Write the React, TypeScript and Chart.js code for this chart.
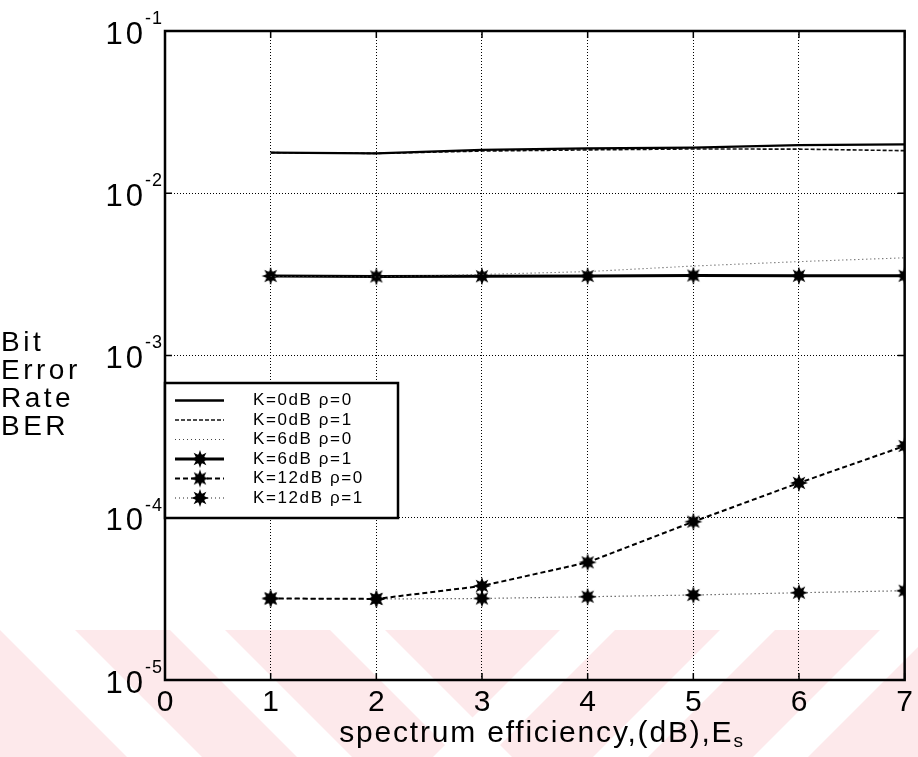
import React, { useEffect, useRef } from 'react';
import { Chart, registerables } from 'chart.js';

Chart.register(...registerables);

// ---- data ----
const xValues = [1, 2, 3, 4, 5, 6, 7];
const k0rho0 = [0.0178, 0.0176, 0.0185, 0.0189, 0.0191, 0.0198, 0.0200];
const k0rho1 = [0.0178, 0.0176, 0.0182, 0.0185, 0.01875, 0.0187, 0.0183];
const k6rho0 = [0.00307, 0.00305, 0.00316, 0.00329, 0.00356, 0.00379, 0.004];
const k6rho1 = [0.00309, 0.00307, 0.00308, 0.00309, 0.00311, 0.0031, 0.0031];
const k12rho0 = [3.18e-5, 3.16e-5, 3.8e-5, 5.31e-5, 9.46e-5, 1.64e-4, 2.77e-4];
const k12rho1 = [3.18e-5, 3.16e-5, 3.18e-5, 3.26e-5, 3.34e-5, 3.45e-5, 3.55e-5];

const seriesLabels = ['K=0dB ρ=0', 'K=0dB ρ=1', 'K=6dB ρ=0', 'K=6dB ρ=1', 'K=12dB ρ=0', 'K=12dB ρ=1'];
const xTickValues = [0, 1, 2, 3, 4, 5, 6, 7];
const yDecades = [1e-5, 1e-4, 1e-3, 1e-2, 1e-1];
const yExponents = ['-5', '-4', '-3', '-2', '-1'];
const yTitleLines = ['Bit', 'Error', 'Rate', 'BER'];
const xTitleMain = 'spectrum efficiency,(dB),E';
const xTitleSub = 's';

const FONT = '"Liberation Sans", Arial, Helvetica, sans-serif';

function makeStar(): HTMLCanvasElement {
  const size = 20;
  const c = document.createElement('canvas');
  c.width = size;
  c.height = size;
  const ctx = c.getContext('2d')!;
  const cx = size / 2;
  const cy = size / 2;
  ctx.beginPath();
  for (let i = 0; i < 16; i++) {
    const r = i % 2 === 0 ? 9 : 4.4;
    const a = (Math.PI * 2 * i) / 16 - Math.PI / 2;
    const px = cx + r * Math.cos(a);
    const py = cy + r * Math.sin(a);
    if (i === 0) ctx.moveTo(px, py);
    else ctx.lineTo(px, py);
  }
  ctx.closePath();
  ctx.fillStyle = '#000';
  ctx.fill();
  ctx.beginPath();
  ctx.arc(cx, cy, 4.8, 0, Math.PI * 2);
  ctx.fill();
  return c;
}

export default function App() {
  const ref = useRef<HTMLCanvasElement | null>(null);

  useEffect(() => {
    document.body.style.margin = '0';
    const canvas = ref.current!;
    const star = makeStar();
    const toPts = (arr: number[]) => xValues.map((x, i) => ({ x, y: arr[i] }));

    const datasets: any[] = [
      { label: seriesLabels[0], data: toPts(k0rho0), borderColor: '#000', borderWidth: 2.3, pointRadius: 0, borderDash: [] },
      { label: seriesLabels[1], data: toPts(k0rho1), borderColor: '#111', borderWidth: 1.6, pointRadius: 0, borderDash: [4, 2] },
      { label: seriesLabels[2], data: toPts(k6rho0), borderColor: '#444', borderWidth: 1.1, pointRadius: 0, borderDash: [1, 3] },
      { label: seriesLabels[3], data: toPts(k6rho1), borderColor: '#000', borderWidth: 3, pointStyle: star, pointRadius: 9, borderDash: [] },
      { label: seriesLabels[4], data: toPts(k12rho0), borderColor: '#000', borderWidth: 2, pointStyle: star, pointRadius: 9, borderDash: [5, 3] },
      { label: seriesLabels[5], data: toPts(k12rho1), borderColor: '#222', borderWidth: 1.2, pointStyle: star, pointRadius: 9, borderDash: [1, 3] },
    ];
    datasets.forEach((d) => {
      d.fill = false;
      d.tension = 0;
      d.backgroundColor = '#000';
      d.pointBorderWidth = 0;
    });

    const decorPlugin = {
      id: 'decor',
      beforeDraw(chart: any) {
        const ctx = chart.ctx;
        ctx.save();
        ctx.fillStyle = '#fff';
        ctx.fillRect(0, 0, chart.width, chart.height);
        // faint watermark band
        const top = 630;
        const bot = chart.height;
        const h = bot - top;
        ctx.fillStyle = '#fde9eb';
        ctx.fillRect(0, top, chart.width, h);
        ctx.fillStyle = '#fff';
        const back = [0, 170, 330];
        back.forEach((x0, i) => {
          const w = i === 0 ? 75 : 55;
          ctx.beginPath();
          ctx.moveTo(x0, top);
          ctx.lineTo(x0 + w, top);
          ctx.lineTo(x0 + w + h, bot);
          ctx.lineTo(x0 + h, bot);
          ctx.closePath();
          ctx.fill();
        });
        const fwd = [560, 720, 880];
        fwd.forEach((x0) => {
          const w = 55;
          ctx.beginPath();
          ctx.moveTo(x0, top);
          ctx.lineTo(x0 + w, top);
          ctx.lineTo(x0 + w - h, bot);
          ctx.lineTo(x0 - h, bot);
          ctx.closePath();
          ctx.fill();
        });
        ctx.restore();
      },
      afterDraw(chart: any) {
        const ctx = chart.ctx;
        const a = chart.chartArea;
        const xs = chart.scales.x;
        const ys = chart.scales.y;
        ctx.save();
        // axis box
        ctx.strokeStyle = '#000';
        ctx.lineWidth = 2.5;
        ctx.setLineDash([]);
        ctx.strokeRect(a.left, a.top, a.right - a.left, a.bottom - a.top);
        // inward ticks
        ctx.lineWidth = 1.5;
        ctx.beginPath();
        xTickValues.forEach((v) => {
          const px = xs.getPixelForValue(v);
          ctx.moveTo(px, a.bottom);
          ctx.lineTo(px, a.bottom - 7);
          ctx.moveTo(px, a.top);
          ctx.lineTo(px, a.top + 7);
        });
        yDecades.forEach((v) => {
          const py = ys.getPixelForValue(v);
          ctx.moveTo(a.left, py);
          ctx.lineTo(a.left + 7, py);
          ctx.moveTo(a.right, py);
          ctx.lineTo(a.right - 7, py);
        });
        ctx.stroke();

        // y tick labels 10^n
        ctx.fillStyle = '#000';
        yDecades.forEach((v, i) => {
          const py = ys.getPixelForValue(v);
          ctx.font = `31px ${FONT}`;
          (ctx as any).letterSpacing = '3px';
          ctx.textAlign = 'right';
          ctx.textBaseline = 'middle';
          ctx.fillText('10', 146, py + 4);
          ctx.font = `18px ${FONT}`;
          (ctx as any).letterSpacing = '1px';
          ctx.textAlign = 'left';
          ctx.fillText(yExponents[i], 145, py - 12);
        });

        // y title
        ctx.font = `28px ${FONT}`;
        (ctx as any).letterSpacing = '3.5px';
        ctx.textAlign = 'left';
        ctx.textBaseline = 'middle';
        yTitleLines.forEach((t, i) => {
          ctx.fillText(t, 1, 343 + i * 28);
        });

        // x title with subscript
        ctx.font = `30px ${FONT}`;
        (ctx as any).letterSpacing = '1.8px';
        ctx.textBaseline = 'alphabetic';
        const mainW = ctx.measureText(xTitleMain).width;
        ctx.font = `19px ${FONT}`;
        const subW = ctx.measureText(xTitleSub).width;
        const cx = 542;
        const startX = cx - (mainW + subW) / 2;
        ctx.font = `30px ${FONT}`;
        ctx.textAlign = 'left';
        ctx.fillText(xTitleMain, startX, 742);
        ctx.font = `19px ${FONT}`;
        ctx.fillText(xTitleSub, startX + mainW, 747);

        // legend
        const lx = a.left;
        const ly = 383;
        const lw = 398 - a.left;
        const lh = 518 - 383;
        ctx.fillStyle = '#fff';
        ctx.fillRect(lx, ly, lw, lh);
        ctx.strokeStyle = '#000';
        ctx.lineWidth = 2.5;
        ctx.setLineDash([]);
        ctx.strokeRect(lx, ly, lw, lh);
        chart.data.datasets.forEach((d: any, i: number) => {
          const ry = 400.5 + i * 19.5;
          ctx.strokeStyle = d.borderColor;
          ctx.lineWidth = d.borderWidth;
          ctx.setLineDash(d.borderDash || []);
          ctx.beginPath();
          ctx.moveTo(175, ry);
          ctx.lineTo(224, ry);
          ctx.stroke();
          ctx.setLineDash([]);
          if (d.pointRadius > 0) {
            ctx.drawImage(star, 200 - 10, ry - 10);
          }
          ctx.fillStyle = '#000';
          ctx.font = `17px ${FONT}`;
          (ctx as any).letterSpacing = '1.6px';
          ctx.textAlign = 'left';
          ctx.textBaseline = 'middle';
          ctx.fillText(d.label, 253, ry);
        });
        ctx.restore();
      },
    };

    const chart = new Chart(canvas, {
      type: 'line',
      data: { datasets },
      plugins: [decorPlugin],
      options: {
        responsive: false,
        animation: false,
        devicePixelRatio: 1,
        layout: { padding: { top: 31, right: 10, left: 0, bottom: 0 } },
        plugins: { legend: { display: false }, tooltip: { enabled: false }, title: { display: false } },
        elements: { line: { tension: 0 } },
        scales: {
          x: {
            type: 'linear',
            min: 0,
            max: 7,
            afterBuildTicks: (s: any) => {
              s.ticks = xTickValues.map((v) => ({ value: v }));
            },
            afterFit: (s: any) => {
              s.height = 77;
            },
            ticks: {
              autoSkip: false,
              maxRotation: 0,
              color: '#000',
              padding: 5,
              font: { size: 30, family: FONT },
              callback: (v: any) => String(v),
            },
            grid: { color: '#000', lineWidth: 1, drawTicks: false },
            border: { display: false, dash: [1, 2] },
          },
          y: {
            type: 'logarithmic',
            min: 1e-5,
            max: 1e-1,
            afterBuildTicks: (s: any) => {
              s.ticks = yDecades.map((v) => ({ value: v, major: true }));
            },
            afterFit: (s: any) => {
              s.width = 165;
            },
            ticks: { display: false },
            grid: { color: '#000', lineWidth: 1, drawTicks: false },
            border: { display: false, dash: [1, 2] },
          },
        },
      } as any,
    });
    return () => chart.destroy();
  }, []);

  return (
    <div style={{ width: 918, height: 757 }}>
      <canvas ref={ref} width={918} height={757} style={{ display: 'block' }} />
    </div>
  );
}
